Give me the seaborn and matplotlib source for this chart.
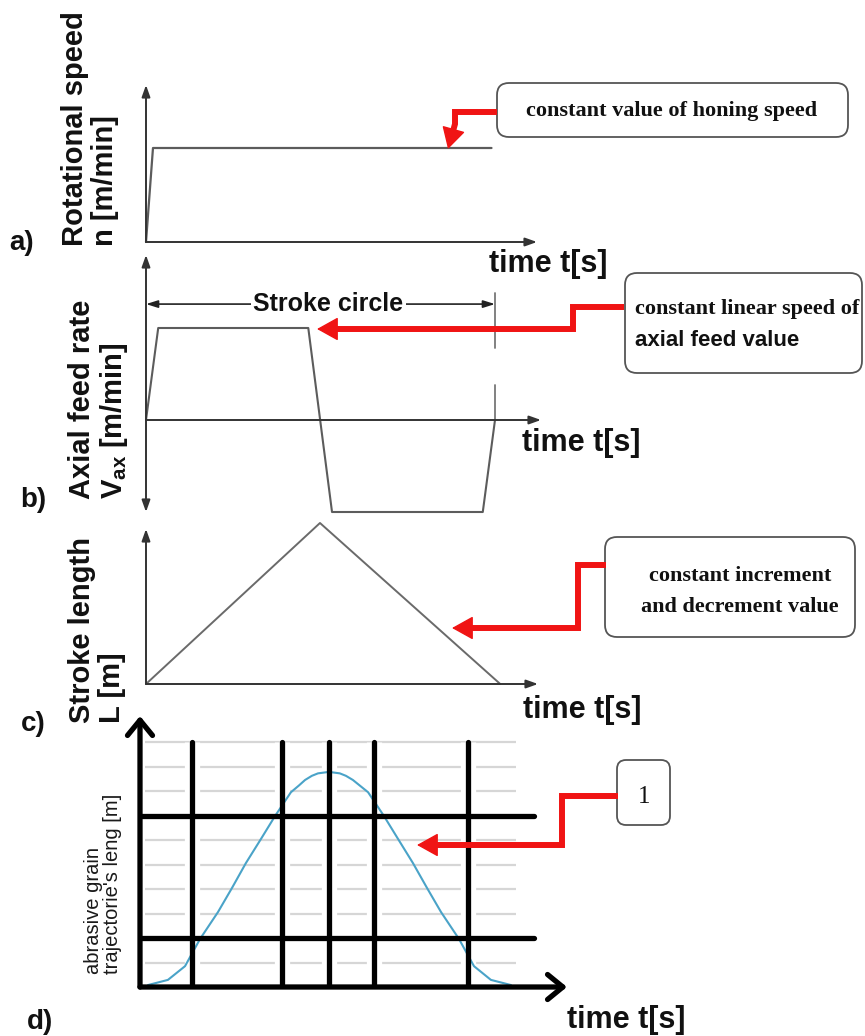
import matplotlib
matplotlib.use("Agg")
import matplotlib.pyplot as plt
import seaborn as sns
import math
from matplotlib.patches import FancyBboxPatch

# ---------------- data ----------------
# a) rotational speed n, normalised to the constant honing value
a_time = [0.0, 0.4, 19.8]
a_speed = [0.0, 1.0, 1.0]
# b) axial feed rate Vax (+1 up-stroke, -1 down-stroke)
b_time = [0.0, 0.7, 9.3, 10.66, 19.3, 20.0]
b_feed = [0.0, 1.0, 1.0, -1.0, -1.0, 0.0]
# c) stroke length L
c_time = [0.0, 9.97, 20.3]
c_length = [0.0, 1.0, 0.0]
# d) abrasive grain trajectory length (grid units)
d_time = [0.46, 1.60, 2.58, 3.44, 4.47, 5.27, 6.07, 6.93, 7.74, 8.65, 9.1, 9.46, 9.85,
          10.2, 10.83, 11.45, 11.8, 12.2, 12.6, 13.07, 13.98, 14.79, 15.64, 16.45,
          17.25, 18.28, 19.14, 20.11, 21.26]
d_length = [0.08, 0.29, 0.85, 1.96, 3.06, 4.04, 5.06, 6.04, 6.98, 7.95, 8.22, 8.45, 8.62,
            8.72, 8.78, 8.72, 8.62, 8.45, 8.22, 7.95, 6.98, 6.04, 5.06, 4.04, 3.06,
            1.96, 0.85, 0.29, 0.08]
d_grid_levels = [1, 2, 3, 4, 5, 6, 7, 8, 9, 10]
d_thick_levels = [2, 7]
d_sections = [2.98, 8.14, 10.83, 13.41, 18.8]
stroke_cycle = [0.0, 20.0]

# ---------------- texts ----------------
panel_letters = ["a)", "b)", "c)", "d)"]
y_titles = ["Rotational speed\nn [m/min]",
            "Axial feed rate\nV$_{\\mathregular{ax}}$ [m/min]",
            "Stroke length\nL [m]",
            "abrasive grain\ntrajectorie's leng [m]"]
x_title = "time t[s]"
note_a = "constant value of honing speed"
note_b = ["constant linear speed of", "axial feed value"]
note_c = ["constant increment", "and decrement value"]
note_d = "1"
stroke_label = "Stroke circle"

sns.set_theme(style="white")
plt.rcParams["font.family"] = ["Liberation Sans", "DejaVu Sans"]
plt.rcParams["mathtext.fontset"] = "custom"
plt.rcParams["mathtext.rm"] = "Liberation Sans"

W, H = 865, 1036
fig = plt.figure(figsize=(W / 100, H / 100), dpi=100)
S = 17.45  # px per time unit


def px_axes(l, r, t, b):
    ax = fig.add_axes([l / W, 1 - b / H, (r - l) / W, (b - t) / H])
    ax.axis("off")
    ax.patch.set_visible(False)
    return ax


def axis_arrow(ax, start, end, style="-|>,head_length=0.7,head_width=0.25",
               color="#333333", lw=1.4):
    ax.annotate("", xy=end, xytext=start, annotation_clip=False,
                arrowprops=dict(arrowstyle=style, color=color, lw=lw,
                                shrinkA=0, shrinkB=0, mutation_scale=10))


line_gray = "#5c5c5c"

# ---- panel a ----
axa = px_axes(146, 537, 85, 242)
axa.set_xlim(0, 391 / S)
axa.set_ylim(0, 157 / 94)
sns.lineplot(x=a_time, y=a_speed, ax=axa, color=line_gray, lw=1.6,
             sort=False, estimator=None, clip_on=False)
axis_arrow(axa, (0, 0), (391 / S, 0))
axis_arrow(axa, (0, 0), (0, 157 / 94))

# ---- panel b ----
axb = px_axes(146, 541, 255, 512)
axb.set_xlim(0, 395 / S)
axb.set_ylim(-92 / 92, 165 / 92)
sns.lineplot(x=b_time, y=b_feed, ax=axb, color=line_gray, lw=1.5,
             sort=False, estimator=None, clip_on=False)
axis_arrow(axb, (0, 0), (395 / S, 0))
axis_arrow(axb, (0, -1.0), (0, 165 / 92), style="<|-|>,head_length=0.7,head_width=0.25")
axb.plot([stroke_cycle[1]] * 2, [0.78, 1.38], color="#777777", lw=1.3, clip_on=False)
axb.plot([stroke_cycle[1]] * 2, [0.0, 0.38], color="#777777", lw=1.3, clip_on=False)
axis_arrow(axb, (stroke_cycle[0], 1.26), (stroke_cycle[1], 1.26),
           style="<|-|>,head_length=0.7,head_width=0.22", color="#222222", lw=1.2)
axb.text(sum(stroke_cycle) / 2 + 0.45, 1.26, stroke_label, ha="center", va="center",
         fontsize=18, fontweight="bold", color="#111111",
         bbox=dict(fc="white", ec="none", pad=2))

# ---- panel c ----
axc = px_axes(146, 538, 520, 684)
axc.set_xlim(0, 392 / S)
axc.set_ylim(0, 164 / 161)
sns.lineplot(x=c_time, y=c_length, ax=axc, color="#6a6a6a", lw=1.4,
             sort=False, estimator=None, clip_on=False)
axis_arrow(axc, (0, 0), (392 / S, 0))
axis_arrow(axc, (0, 0), (0, 155 / 161))

# ---- panel d ----
axd = px_axes(140, 567, 716, 988)
axd.set_xlim(0, 427 / S)
axd.set_ylim(-1 / 24.5, 271 / 24.5)
axd.hlines(d_grid_levels, 0.29, 21.55, color="#d6d6d6", lw=1.6, zorder=1)
axd.vlines(d_sections, 0.05, 10, color="white", lw=11, zorder=2)
sns.lineplot(x=d_time, y=d_length, ax=axd, color="#4aa3c8", lw=1.5,
             sort=False, estimator=None, zorder=3)
axd.vlines(d_sections, 0.05, 10, color="black", lw=3.8, zorder=4, capstyle="round")
axd.hlines(d_thick_levels, 0, 22.6, color="black", lw=3.8, zorder=4, capstyle="round")
axis_arrow(axd, (0, 0), (427 / S, 0), style="->,head_length=1.1,head_width=0.9",
           color="black", lw=3.8)
axis_arrow(axd, (0, 0), (0, 271 / 24.5), style="->,head_length=1.1,head_width=0.9",
           color="black", lw=3.8)

# ---------------- overlay (labels, boxes, callouts) ----------------
ov = fig.add_axes([0, 0, 1, 1])
ov.set_xlim(0, W)
ov.set_ylim(H, 0)
ov.axis("off")
ov.patch.set_visible(False)

for (x, y), s in zip([(22, 243), (33, 500), (33, 724), (40, 1022)], panel_letters):
    ov.text(x, y, s, ha="center", va="center", fontsize=20, fontweight="bold",
            color="#111111")

ylab_pos = [(90, 246), (99, 499), (97, 723), (103, 974)]
for i, ((x, y), s) in enumerate(zip(ylab_pos, y_titles)):
    if i < 3:
        ov.text(x, y, s, rotation=90, ha="center", va="bottom", multialignment="left",
                fontsize=21, fontweight="bold", color="#111111", linespacing=1.1)
    else:
        ov.text(x, y, s, rotation=90, ha="center", va="bottom", multialignment="left",
                fontsize=14.5, color="#1a1a1a", linespacing=1.0)

for (x, y) in [(489, 264), (522, 443), (523, 710), (567, 1020)]:
    ov.text(x, y, x_title, ha="left", va="center", fontsize=22, fontweight="bold",
            color="#111111")


def box(x, y, w, h, r=12):
    ov.add_patch(FancyBboxPatch((x, y), w, h,
                                boxstyle=f"round,pad=0,rounding_size={r}",
                                fc="white", ec="#555555", lw=1.3, zorder=5))


serif = ["Liberation Serif", "DejaVu Serif"]
box(497, 83, 351, 54)
ov.text(672, 111, note_a, ha="center", va="center", fontsize=16, fontweight="bold",
        family=serif, color="#111111", zorder=6)
box(625, 273, 237, 100)
ov.text(635, 309, note_b[0], ha="left", va="center", fontsize=16, fontweight="bold",
        family=serif, color="#111111", zorder=6)
ov.text(635, 341, note_b[1], ha="left", va="center", fontsize=16, fontweight="bold",
        color="#111111", zorder=6)
box(605, 537, 250, 100)
ov.text(740, 576, note_c[0], ha="center", va="center", fontsize=16, fontweight="bold",
        family=serif, color="#111111", zorder=6)
ov.text(740, 607, note_c[1], ha="center", va="center", fontsize=16, fontweight="bold",
        family=serif, color="#111111", zorder=6)
box(617, 760, 53, 65, r=9)
ov.text(644, 797, note_d, ha="center", va="center", fontsize=18,
        family=serif, color="#111111", zorder=6)

red = "#f01414"


def callout(points, tip, head=18):
    cx, cy = points[-1]
    dx, dy = cx - tip[0], cy - tip[1]
    d = math.hypot(dx, dy)
    base = (tip[0] + dx / d * (head - 3), tip[1] + dy / d * (head - 3))
    pts = list(points) + [base]
    ov.plot([p[0] for p in pts], [p[1] for p in pts], color=red, lw=4.3,
            solid_joinstyle="miter", solid_capstyle="butt", zorder=7)
    start = (tip[0] + dx / d * (head + 1), tip[1] + dy / d * (head + 1))
    ov.annotate("", xy=tip, xytext=start, zorder=8,
                arrowprops=dict(arrowstyle="-|>,head_length=1.35,head_width=0.75",
                                mutation_scale=10, color=red, lw=1,
                                shrinkA=0, shrinkB=0))


callout([(497, 112), (455, 112), (455, 124)], (448, 149), head=17)
callout([(624, 307), (573, 307), (573, 329)], (317, 329))
callout([(606, 565), (578, 565), (578, 628)], (452, 628))
callout([(618, 796), (562, 796), (562, 845)], (417, 845))

fig.savefig("out.png", dpi=100)
